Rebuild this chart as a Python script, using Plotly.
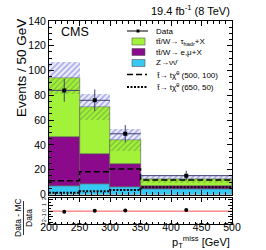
import plotly.graph_objects as go

# ---- data ----
bin_edges = [200, 250, 300, 350, 500]
data_vals = [84, 76, 49, 15.2]
z_nunu = [7.0, 8.5, 6.3, 4.2]                 # Z->nu nu (bottom of stack)
lep_cum = [46.0, 33.0, 25.0, 6.9]             # cumulative top of tt/W->e,mu+X
tau_cum = [94.0, 70.3, 44.0, 12.2]            # cumulative top of tt/W->tau_hadr+X (total MC)
mc_unc = [13.0, 10.5, 8.7, 3.3]               # total MC uncertainty
sig_500_100 = [11.0, 18.4, 20.5, 11.7]
sig_650_50 = [1.5, 2.6, 3.6, 5.8]

centers = [(a + b) / 2 for a, b in zip(bin_edges[:-1], bin_edges[1:])]
widths = [b - a for a, b in zip(bin_edges[:-1], bin_edges[1:])]
half = [w / 2 for w in widths]
lep_only = [c - z for c, z in zip(lep_cum, z_nunu)]
tau_only = [t - l for t, l in zip(tau_cum, lep_cum)]
err_data = [v ** 0.5 for v in data_vals]
ratio = [(d - m) / d for d, m in zip(data_vals, tau_cum)]

GREEN = "#a2f23a"
PURPLE = "#8b0a8b"
CYAN = "#38c8f4"
FONT = "Liberation Sans"

fig = go.Figure()
edge = dict(color="#555555", width=0.6)
fig.add_bar(x=centers, y=z_nunu, base=[0] * 4, width=widths,
            marker=dict(color=CYAN, line=edge), showlegend=False)
fig.add_bar(x=centers, y=lep_only, base=z_nunu, width=widths,
            marker=dict(color=PURPLE, line=edge), showlegend=False)
fig.add_bar(x=centers, y=tau_only, base=lep_cum, width=widths,
            marker=dict(color=GREEN, line=edge), showlegend=False)
# uncertainty band: upper (blue hatch) and lower (over green)
fig.add_bar(x=centers, y=mc_unc, base=tau_cum, width=widths,
            marker=dict(color="rgba(200,200,245,0.35)", line=dict(width=0),
                        pattern=dict(shape="/", fgcolor="#5050c8", size=4, solidity=0.35,
                                     bgcolor="rgba(200,200,245,0.35)")),
            showlegend=False)
fig.add_bar(x=centers, y=mc_unc, base=[t - u for t, u in zip(tau_cum, mc_unc)], width=widths,
            marker=dict(color="rgba(0,0,0,0)", line=dict(width=0),
                        pattern=dict(shape="/", fgcolor="#5a8a3a", size=4, solidity=0.35,
                                     bgcolor="rgba(0,0,0,0)")),
            showlegend=False)

step_x = bin_edges
fig.add_scatter(x=step_x, y=sig_500_100 + [sig_500_100[-1]], mode="lines", line_shape="hv",
                line=dict(color="black", width=1.5, dash="6px,3px"), showlegend=False)
fig.add_scatter(x=step_x, y=sig_650_50 + [sig_650_50[-1]], mode="lines", line_shape="hv",
                line=dict(color="black", width=2, dash="2px,1.5px"), showlegend=False)

fig.add_scatter(x=centers, y=data_vals, mode="markers",
                marker=dict(color="black", size=4, symbol="square"),
                error_y=dict(type="data", array=err_data, color="#404070", thickness=1, width=0),
                error_x=dict(type="data", array=half, color="#404070", thickness=1, width=0),
                showlegend=False)

# ratio panel
fig.add_scatter(x=[bin_edges[0], bin_edges[-1]], y=[0, 0], mode="lines",
                line=dict(color="#ff5050", width=1), xaxis="x2", yaxis="y2", showlegend=False)
fig.add_scatter(x=centers, y=ratio, mode="markers", marker=dict(color="black", size=4),
                xaxis="x2", yaxis="y2", showlegend=False)

L, R, T, B, W, H = 49, 34, 21, 26, 266, 250
PH = H - T - B
PW = W - L - R


def px(xp):
    return (xp - L) / PW


def py(yp):
    return (H - B - yp) / PH


axis_common = dict(showline=True, linecolor="black", linewidth=1, mirror="allticks",
                   ticks="inside", tickcolor="black", showgrid=False, zeroline=False)

fig.update_layout(
    width=W, height=H, margin=dict(l=L, r=R, t=T, b=B),
    plot_bgcolor="white", paper_bgcolor="white", barmode="overlay", bargap=0,
    font=dict(family=FONT, color="black", size=10),
    xaxis=dict(domain=[0, 1], anchor="y", range=[200, 500], dtick=50, ticklen=5,
               showticklabels=False, matches="x2",
               minor=dict(ticks="inside", dtick=10, ticklen=3, tickcolor="black"),
               **axis_common),
    yaxis=dict(domain=[py(194.5), 1], anchor="x", range=[0, 140], dtick=20, ticklen=5,
               tickfont=dict(size=10.5), minor=dict(ticks="inside", dtick=5, ticklen=3, tickcolor="black"),
               **axis_common),
    xaxis2=dict(domain=[0, 1], anchor="y2", range=[200, 500], dtick=50, ticklen=4,
                tickfont=dict(size=10.5), ticklabelstandoff=-7,
                minor=dict(ticks="inside", dtick=10, ticklen=2, tickcolor="black"),
                **axis_common),
    yaxis2=dict(domain=[0, py(198.3)], anchor="x2", range=[-2.2, 2.2],
                tickvals=[-2, -1, 0, 1, 2], ticklen=4, tickfont=dict(size=5), tickangle=-90,
                minor=dict(ticks="inside", dtick=0.5, ticklen=2, tickcolor="black"),
                **axis_common),
)

ann = []
ann.append(dict(text="19.4 fb<sup>-1</sup> (8 TeV)", x=1.0, y=py(10), xref="paper", yref="paper",
                xanchor="right", yanchor="middle", showarrow=False, font=dict(size=11)))
ann.append(dict(text="CMS", x=px(59), y=py(31.5), xref="paper", yref="paper",
                xanchor="left", yanchor="middle", showarrow=False, font=dict(size=12.5)))
ann.append(dict(text="Events / 50 GeV", x=px(21), y=py(68), xref="paper", yref="paper",
                textangle=-90, xanchor="center", yanchor="middle", showarrow=False,
                font=dict(size=13.5)))
ann.append(dict(text="Data - MC", x=px(18), y=py(218), xref="paper", yref="paper",
                textangle=-90, xanchor="center", yanchor="middle", showarrow=False,
                font=dict(size=8.5)))
ann.append(dict(text="Data", x=px(29), y=py(218), xref="paper", yref="paper",
                textangle=-90, xanchor="center", yanchor="middle", showarrow=False,
                font=dict(size=8.5)))
ann.append(dict(text="p<sub>T</sub><sup>miss</sup> [GeV]", x=1.0, y=py(241.5), xref="paper", yref="paper",
                xanchor="right", yanchor="middle", showarrow=False, font=dict(size=11)))

shapes = [dict(type="line", xref="paper", yref="paper", x0=px(23.5), x1=px(23.5),
               y0=py(201), y1=py(235), line=dict(color="black", width=0.8))]

# manual legend
leg_labels = ["Data", "tt\u0304/W\u2192 \u03c4<sub>hadr</sub>+X", "tt\u0304/W\u2192 e,\u03bc+X",
              "Z\u2192\u03bd\u03bd\u0304", "t\u0303\u2192 t\u03c7\u0303<sup>0</sup> (500, 100)",
              "t\u0303\u2192 t\u03c7\u0303<sup>0</sup> (650, 50)"]
leg_y = [31, 41.5, 52, 63, 74.5, 87]
for lab, yy in zip(leg_labels, leg_y):
    ann.append(dict(text=lab, x=px(154), y=py(yy), xref="paper", yref="paper",
                    xanchor="left", yanchor="middle", showarrow=False, font=dict(size=8)))
# data symbol
shapes.append(dict(type="line", xref="paper", yref="paper", x0=px(127), x1=px(148),
                   y0=py(leg_y[0]), y1=py(leg_y[0]), line=dict(color="black", width=1)))
shapes.append(dict(type="rect", xref="paper", yref="paper", x0=px(136.5), x1=px(139.5),
                   y0=py(leg_y[0] + 1.5), y1=py(leg_y[0] - 1.5), fillcolor="black",
                   line=dict(width=0)))
for col, yy in zip([GREEN, PURPLE, CYAN], leg_y[1:4]):
    shapes.append(dict(type="rect", xref="paper", yref="paper", x0=px(132), x1=px(145),
                       y0=py(yy + 3.5), y1=py(yy - 3.5), fillcolor=col,
                       line=dict(color="#555555", width=0.6)))
shapes.append(dict(type="line", xref="paper", yref="paper", x0=px(127), x1=px(147),
                   y0=py(leg_y[4]), y1=py(leg_y[4]), line=dict(color="black", width=1.5, dash="6px,3px")))
shapes.append(dict(type="line", xref="paper", yref="paper", x0=px(127), x1=px(147),
                   y0=py(leg_y[5]), y1=py(leg_y[5]), line=dict(color="black", width=2, dash="2px,1.5px")))

fig.update_layout(annotations=ann, shapes=shapes)
fig.write_html("out.html", config={"displayModeBar": False},
               post_script="document.body.style.margin='0';document.body.style.overflow='hidden';")
